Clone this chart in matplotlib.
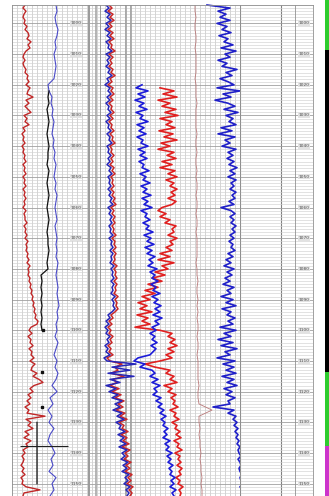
import numpy as np
import matplotlib.pyplot as plt
from matplotlib.ticker import MultipleLocator, LogLocator, NullFormatter

nan = np.nan

# depth samples: 2 m for the smooth curves, 1 m for the noisy ones
depth = np.arange(994, 1155, 2)
depth_1m = np.arange(994, 1155, 1)
depth_top, depth_base = 994, 1154
label_depths = list(range(1000, 1151, 10))

# track 1 curves
gr_red = [13, 11, 14, 12, 11, 13, 12, 15, 13, 16,
          17, 15, 19, 16, 18, 14, 12, 11, 13, 11,
          12, 14, 13, 16, 15, 17, 14, 18, 16, 15,
          21, 14, 17, 13, 16, 19, 12, 15, 13, 17,
          11, 13, 10, 12, 11, 13, 10, 12, 11, 13,
          12, 14, 11, 13, 12, 14, 11, 13, 12, 14,
          11, 13, 12, 14, 12, 13, 11, 14, 12, 13,
          13, 15, 12, 14, 13, 15, 13, 16, 14, 15,
          14, 16, 15, 17, 15, 18, 16, 17, 16, 18,
          17, 19, 18, 20, 19, 21, 20, 22, 21, 23,
          22, 24, 23, 26, 25, 19, 17, 20, 16, 19,
          18, 21, 17, 20, 19, 22, 18, 23, 20, 19,
          25, 21, 27, 31, 22, 18, 21, 16, 19, 15,
          18, 13, 17, 15, 33, 14, 19, 16, 21, 13,
          17, 12, 19, 14, 16, 11, 13, 10, 12, 11,
          9, 12, 10, 13, 9, 11, 10, 14, 28, 12,
          11]
sp_blue = [44, 45, 43, 44, 46, 45, 43, 44, 42, 43,
           44, 43, 42, 36, 37, 40, 39, 41, 40, 42,
           41, 40, 42, 41, 43, 42, 44, 43, 42, 44,
           43, 45, 44, 43, 44, 45, 43, 44, 45, 44,
           45, 44, 46, 45, 44, 45, 46, 45, 46, 47,
           45, 46, 44, 45, 43, 46, 44, 42, 45, 43,
           46, 44, 40, 45, 38, 41, 36, 40, 37, 42,
           38, 36, 40, 43, 39, 41, 37, 44, 40, 42,
           38]
cal_black = [nan, nan, nan, nan, nan, nan, nan, nan, nan, nan,
             nan, nan, nan, nan, 37, 36, 37, 35, 36, 37,
             36, 35, 36, 37, 36, 36, 35, 37, 36, 35,
             36, 37, 36, 35, 36, 37, 36, 35, 36, 36,
             37, 36, 35, 36, 29, 30, 29, 30, 29, 30,
             29, 30, 29, 30, nan, nan, nan, nan, nan, nan,
             nan, nan, nan, nan, nan, nan, nan, nan, 25, 25,
             25, 25, 25, 25, 25, 25, 25, 25, 25, nan,
             nan]
cal_pts_depth = [1100, 1113.6, 1125]
cal_pts_value = [31, 30, 30]
top_depth = 1137.7

# track 2 curves
res_shallow = [6, 9, 5, 10, 7, 11, 6, 9, 5, 10,
               7, 11, 6, 9, 8, 12, 6, 10, 7, 9,
               6, 10, 8, 12, 7, 9, 5, 10, 8, 11,
               7, 10, 6, 9, 8, 11, 7, 10, 6, 9,
               8, 11, 7, 10, 9, 12, 7, 9, 8, 11,
               8, 10, 7, 11, 9, 12, 8, 10, 9, 11,
               8, 11, 9, 12, 10, 13, 8, 11, 9, 12,
               10, 12, 9, 11, 10, 13, 9, 12, 11, 13,
               10, 13, 11, 12, 10, 14, 11, 13, 12, 14,
               11, 14, 12, 13, 11, 15, 12, 14, 13, 15,
               12, 8, 10, 6, 9, 5, 8, 6, 10, 7,
               9, 5, 8, 6, 10, 4, 7, 36, 12, 30,
               8, 34, 10, 20, 6, 16, 9, 18, 12, 22,
               15, 20, 13, 22, 17, 24, 16, 21, 19, 25,
               18, 24, 20, 26, 19, 27, 22, 25, 21, 28,
               23, 27, 22, 29, 25, 28, 24, 30, 26, 29,
               27]
res_deep = [9, 12, 8, 13, 10, 14, 9, 12, 8, 13,
            10, 14, 9, 12, 11, 15, 9, 13, 10, 12,
            9, 13, 11, 15, 10, 12, 8, 13, 11, 14,
            10, 13, 9, 12, 11, 14, 10, 13, 9, 12,
            11, 14, 10, 13, 12, 15, 10, 12, 11, 14,
            11, 13, 10, 14, 12, 15, 11, 13, 12, 14,
            11, 14, 12, 15, 13, 16, 11, 14, 12, 15,
            13, 15, 12, 14, 13, 16, 12, 15, 14, 16,
            13, 16, 14, 15, 13, 17, 14, 16, 15, 17,
            14, 17, 15, 16, 14, 18, 15, 17, 16, 18,
            15, 11, 13, 9, 12, 8, 11, 9, 13, 10,
            12, 8, 11, 9, 13, 7, 10, 22, 15, 18,
            11, 24, 13, 17, 10, 19, 12, 21, 15, 24,
            18, 23, 16, 25, 20, 27, 19, 24, 22, 28,
            21, 27, 23, 29, 22, 30, 25, 28, 24, 31,
            26, 30, 25, 32, 28, 31, 27, 33, 29, 32,
            30]
nphi_blue = [nan, nan, nan, nan, nan, nan, nan, nan, nan, nan,
             nan, nan, nan, nan, nan, nan, nan, nan, nan, nan,
             nan, nan, nan, nan, nan, nan, 42, 36, 48, 38,
             45, 35, 44, 39, 47, 36, 43, 40, 48, 37,
             44, 39, 46, 37, 43, 41, 48, 38, 45, 40,
             47, 39, 44, 42, 49, 40, 46, 43, 50, 41,
             47, 43, 51, 42, 48, 44, 52, 41, 47, 45,
             50, 43, 49, 46, 53, 44, 51, 47, 54, 45,
             52, 47, 55, 49, 53, 48, 57, 50, 55, 52,
             58, 51, 56, 53, 60, 52, 58, 54, 61, 55,
             60, 53, 62, 55, 59, 52, 56, 50, 55, 52,
             57, 51, 56, 53, 50, 38, 34, 45, 40, 52,
             55, 50, 58, 52, 60, 54, 57, 53, 61, 56,
             62, 58, 64, 60, 66, 61, 65, 63, 68, 64,
             67, 63, 70, 65, 69, 66, 72, 67, 71, 68,
             73, 69, 72, 70, 75, 71, 74, 70, 76, 72,
             74]
rhob_red = [nan, nan, nan, nan, nan, nan, nan, nan, nan, nan,
            nan, nan, nan, nan, nan, nan, nan, nan, nan, nan,
            nan, nan, nan, nan, nan, nan, nan, 60, 74, 63,
            77, 58, 70, 62, 76, 65, 78, 60, 72, 66,
            75, 59, 73, 64, 77, 61, 70, 58, 74, 67,
            76, 62, 72, 60, 75, 68, 77, 66, 74, 70,
            77, 71, 75, 68, 76, 72, 62, 58, 66, 60,
            70, 65, 76, 72, 74, 68, 77, 70, 73, 66,
            72, 60, 70, 58, 74, 62, 68, 55, 65, 52,
            62, 48, 58, 45, 55, 42, 50, 38, 47, 40,
            52, 37, 48, 42, 50, 35, 60, 72, 68, 75,
            70, 77, 68, 74, 66, 72, 60, 45, 55, 70,
            66, 74, 70, 77, 64, 72, 68, 76, 71, 75,
            73, 78, 70, 76, 74, 79, 72, 77, 75, 80,
            76, 81, 74, 79, 77, 82, 75, 80, 78, 81,
            77, 82, 79, 81, 76, 80, 78, 83, 79, 81,
            80]
pef_brown = [95, 95, 96, 95, 95, 96, 96, 95, 96, 96,
             96, 96, 95, 96, 96, 96, 97, 96, 96, 96,
             96, 97, 96, 96, 97, 96, 96, 97, 96, 97,
             97, 96, 97, 97, 96, 97, 97, 96, 97, 97,
             97, 97, 96, 97, 97, 98, 97, 97, 98, 97,
             98, 97, 98, 98, 97, 98, 98, 97, 98, 98,
             98, 98, 99, 98, 98, 99, 112, 99, 99, 100,
             99, 100, 100, 101, 100, 101, 101, 102, 101, 102,
             102]
dt_blue = [107, 130, 118, 126, 120, 130, 117, 127, 122, 131,
           119, 128, 124, 133, 121, 136, 125, 130, 118, 127,
           122, 137, 126, 132, 120, 128, 134, 117, 140, 123,
           131, 115, 128, 135, 124, 138, 126, 133, 129, 136,
           121, 132, 118, 135, 125, 130, 122, 136, 128, 133,
           127, 134, 129, 137, 130, 135, 128, 136, 131, 134,
           130, 136, 132, 135, 129, 134, 121, 131, 135, 130,
           134, 131, 136, 132, 135, 130, 134, 129, 133, 131,
           135, 128, 133, 126, 131, 124, 134, 127, 132, 125,
           130, 123, 134, 127, 131, 121, 133, 126, 136, 122,
           131, 127, 135, 128, 133, 120, 136, 124, 131, 118,
           133, 121, 137, 125, 130, 117, 135, 123, 134, 126,
           136, 122, 134, 127, 137, 124, 132, 126, 135, 128,
           130, 113, 134, 128, 136, 133, 137, 134, 138, 135,
           138, 136, 139, 137, 140, 138, 139, 141, 138, 140,
           141, 139, 140, 142, 140, 141, 143, 140, 142, 141,
           142]

# zone column
zone_tops = [992.4, 1008.7, 1113.6, 1137.7]
zone_bases = [1008.7, 1113.6, 1137.7, 1154]
zone_colors = ['#2ecc2e', '#000000', '#2ecc2e', '#cc33cc']

W, H = 329, 496
fig = plt.figure(figsize=(W / 100, H / 100), dpi=100)


def px_axes(x0, x1, y0, y1):
    return fig.add_axes([x0 / W, 1 - y1 / H, (x1 - x0) / W, (y1 - y0) / H])


def depth_grid(ax):
    ax.set_ylim(depth_base, depth_top)
    ax.yaxis.set_major_locator(MultipleLocator(10))
    ax.yaxis.set_minor_locator(MultipleLocator(1))
    ax.grid(which='minor', axis='y', color='#d2d2d2', lw=0.45)
    ax.grid(which='major', axis='y', color='#a0a0a0', lw=0.6)
    ax.tick_params(which='both', length=0, labelbottom=False, labelleft=False)
    for s in ax.spines.values():
        s.set_color('#909090')
        s.set_linewidth(0.6)
    ax.set_axisbelow(True)


def depth_labels(ax, x):
    for d in label_depths:
        ax.text(x, d, str(d), fontsize=3.2, color='#505050', ha='center',
                va='center', bbox=dict(fc='#e2e2e2', ec='none', pad=0.4))


# track 1
ax1 = px_axes(12, 100, 5, 496)
ax1.set_xlim(0, 88)
depth_grid(ax1)
ax1.xaxis.set_major_locator(MultipleLocator(5))
ax1.grid(which='major', axis='x', color='#c4c4c4', lw=0.5)
ax1.axvline(77, color='#9a9a9a', lw=1.4)
ax1.axvline(84, color='#a8a8a8', lw=1.2)
ax1.plot(gr_red, depth_1m, color='#c02828', lw=1.0)
ax1.plot(sp_blue, depth, color='#4a4ac8', lw=0.8)
ax1.plot(cal_black, depth, color='#101010', lw=0.9)
ax1.plot(cal_pts_value, cal_pts_depth, 's', color='#101010', ms=1.5)
ax1.hlines(top_depth, 8, 56, color='#202020', lw=0.8)
depth_labels(ax1, 64)

# track 2
ax2 = px_axes(100, 240, 5, 496)
ax2.set_xlim(0, 140)
depth_grid(ax2)
ax2.xaxis.set_major_locator(MultipleLocator(5))
ax2.grid(which='major', axis='x', color='#c4c4c4', lw=0.5)
ax2.axvline(26, color='#a0a0a0', lw=1.2)
ax2.axvline(31, color='#a0a0a0', lw=1.2)
ax2.plot(res_deep, depth_1m, color='#c82828', lw=1.1)
ax2.plot(res_shallow, depth_1m, color='#2626b8', lw=1.1)
ax2.plot(rhob_red, depth_1m, color='#e02020', lw=1.2)
ax2.plot(nphi_blue, depth_1m, color='#1c1cd8', lw=1.2)
ax2.plot(pef_brown, depth, color='#b87878', lw=0.6)
ax2.plot(dt_blue, depth_1m, color='#2020c8', lw=1.2, clip_on=False)

# track 3, logarithmic
ax3 = px_axes(240, 295, 5, 496)
ax3.set_xscale('log')
ax3.set_xlim(1, 1e4)
depth_grid(ax3)
ax3.xaxis.set_major_locator(LogLocator(base=10))
ax3.xaxis.set_minor_locator(LogLocator(base=10, subs=np.arange(2, 10)))
ax3.xaxis.set_minor_formatter(NullFormatter())
ax3.grid(which='major', axis='x', color='#808080', lw=0.8)
ax3.grid(which='minor', axis='x', color='#a8a8a8', lw=0.6)
ax3.tick_params(which='both', length=0, labelbottom=False)

# right depth column
ax4 = px_axes(295, 313, 5, 496)
ax4.set_xlim(0, 1)
depth_grid(ax4)
depth_labels(ax4, 0.5)

# zone column
ax5 = px_axes(325, 329, 0, 496)
ax5.set_xlim(0, 1)
ax5.set_ylim(depth_base, zone_tops[0])
for t, b, c in zip(zone_tops, zone_bases, zone_colors):
    ax5.axhspan(t, b, color=c, lw=0)
ax5.axis('off')

fig.savefig('out.png', dpi=100)
